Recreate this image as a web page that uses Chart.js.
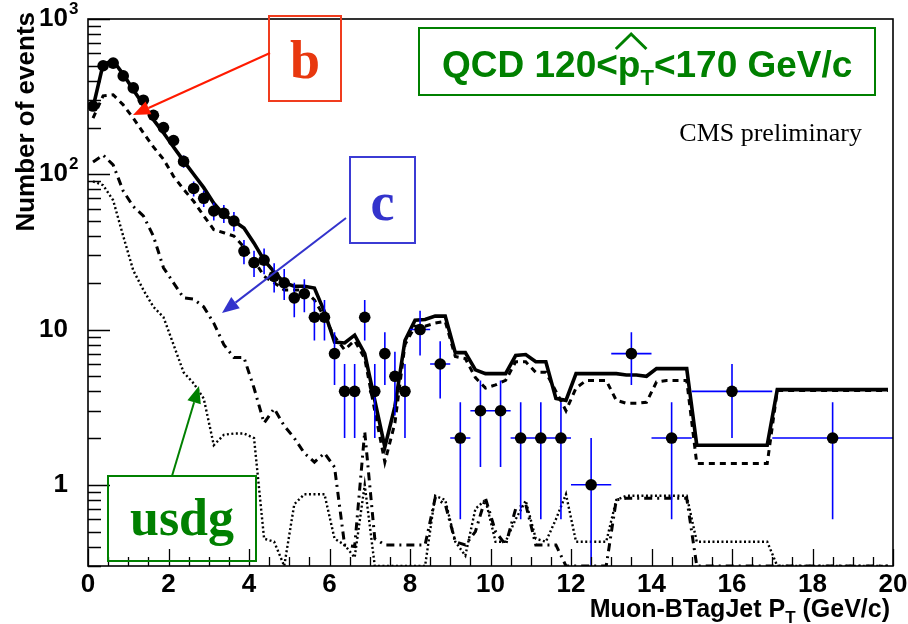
<!DOCTYPE html>
<html>
<head>
<meta charset="utf-8">
<script src="https://cdn.jsdelivr.net/npm/chart.js@4.4.1/dist/chart.umd.min.js"></script>
<style>
  html, body { margin: 0; padding: 0; background: #fff; }
  #wrap { width: 908px; height: 624px; position: relative; }
</style>
</head>
<body>
<div id="wrap"><canvas id="muonChart"></canvas></div>
<script>
// bin centres of the MC histograms (0.25 GeV/c bins)
const mcX = [
	0.125, 0.375, 0.625, 0.875, 1.125, 1.375, 1.625, 1.875, 2.125, 2.375,
	2.625, 2.875, 3.125, 3.375, 3.625, 3.875, 4.125, 4.375, 4.625, 4.875,
	5.125, 5.375, 5.625, 5.875, 6.125, 6.375, 6.625, 6.875, 7.125, 7.375,
	7.625, 7.875, 8.125, 8.375, 8.625, 8.875, 9.125, 9.375, 9.625, 9.875,
	10.125, 10.375, 10.625, 10.875, 11.125, 11.375, 11.625, 11.875, 12.125, 12.375,
	12.625, 12.875, 13.125, 13.375, 13.625, 13.875, 14.125, 14.375, 14.625, 14.875,
	15.125, 15.375, 15.625, 15.875, 16.125, 16.375, 16.625, 16.875, 17.125, 17.375,
	17.625, 17.875, 18.125, 18.375, 18.625, 18.875, 19.125, 19.375, 19.625, 19.875,
];

// total MC (solid)
const totalMC = [
	270, 510, 540, 440, 350, 280, 225, 185, 150, 122,
	100, 82, 65, 55, 50, 45, 36, 28, 23.5, 20,
	19, 19, 18.5, 13, 8.3, 8.2, 9.2, 7, 3.5, 1.75,
	3.2, 8.5, 11.5, 11.6, 12.2, 12.2, 7.1, 7.1, 5.5, 5.2,
	5.2, 5.2, 6.8, 6.9, 6.2, 6.2, 3.6, 3.5, 5.2, 5.2,
	5.2, 5.2, 5.2, 5.1, 5.1, 5.0, 5.6, 5.6, 5.6, 5.6,
	1.8, 1.8, 1.8, 1.8, 1.8, 1.8, 1.8, 1.8, 4.1, 4.1,
	4.1, 4.1, 4.1, 4.1, 4.1, 4.1, 4.1, 4.1, 4.1, 4.1,
];

// b component (dashed)
const bMC = [
	230, 320, 325, 280, 230, 185, 150, 125, 97, 80,
	67, 54, 44, 42, 40, 34, 28, 22, 20, 18,
	18, 18, 15.5, 12, 9, 7.4, 8.5, 6.5, 3, 1.4,
	2.5, 8, 10.5, 10.5, 11, 11.3, 6.7, 6.5, 4.9, 4.2,
	4.4, 4.7, 6.2, 6.2, 5.3, 5.3, 4.0, 3.0, 4.2, 4.7,
	4.7, 4.7, 3.5, 3.35, 3.35, 3.4, 4.6, 4.7, 4.7, 4.7,
	1.37, 1.37, 1.37, 1.37, 1.37, 1.37, 1.37, 1.37, 4.05, 4.05,
	4.05, 4.05, 4.05, 4.05, 4.05, 4.05, 4.05, 4.05, 4.05, 4.05,
];

// c component (dash-dot)
const cMC = [
	120, 133, 115, 78, 62, 54, 40, 25, 20, 16,
	15.7, 14, 11, 8, 6.6, 6.6, 4.2, 2.5, 3.1, 2.4,
	2.0, 1.6, 1.4, 1.6, 1.3, 0.41, 0.4, 2.2, 0.45, 0.41,
	0.41, 0.41, 0.41, 0.41, 0.82, 0.75, 0.43, 0.41, 0.5, 0.82,
	0.5, 0.41, 0.7, 0.75, 0.41, 0.41, 0.41, 0.3, 0.3, 0.3,
	0.3, 0.3, 0.8, 0.82, 0.82, 0.82, 0.82, 0.82, 0.82, 0.82,
	0.3, 0.3, 0.3, 0.3, 0.3, 0.3, 0.3, 0.3, 0.3, 0.3,
	0.3, 0.3, 0.3, 0.3, 0.3, 0.3, 0.3, 0.3, 0.3, 0.3,
];

// usdg component (dotted)
const usdgMC = [
	90, 85, 68, 40, 24, 18, 14, 12, 8, 5.3,
	4.5, 3.6, 1.8, 2.1, 2.14, 2.14, 2.0, 0.45, 0.43, 0.3,
	0.75, 0.87, 0.87, 0.87, 0.45, 0.41, 0.34, 1.0, 0.3, 0.3,
	0.3, 0.3, 0.3, 0.3, 0.85, 0.8, 0.43, 0.35, 0.7, 0.8,
	0.43, 0.43, 0.6, 0.79, 0.45, 0.43, 0.6, 0.87, 0.43, 0.43,
	0.43, 0.43, 0.8, 0.85, 0.85, 0.85, 0.85, 0.85, 0.85, 0.85,
	0.43, 0.43, 0.43, 0.43, 0.43, 0.43, 0.43, 0.43, 0.3, 0.3,
	0.3, 0.3, 0.3, 0.3, 0.3, 0.3, 0.3, 0.3, 0.3, 0.3,
];

// data points (variable binning)
const dataX = [
	0.125, 0.375, 0.625, 0.875, 1.125, 1.375, 1.625, 1.875, 2.125, 2.375,
	2.625, 2.875, 3.125, 3.375, 3.625, 3.875, 4.125, 4.375, 4.625, 4.875,
	5.125, 5.375, 5.625, 5.875, 6.125, 6.375, 6.625, 6.875, 7.125, 7.375,
	7.625, 7.875, 8.25, 8.75, 9.25, 9.75, 10.25, 10.75, 11.25, 11.75,
	12.5, 13.5, 14.5, 16, 18.5,
];
const dataY = [
	275, 500, 520, 430, 360, 300, 240, 200, 165, 121,
	81, 70, 58, 56, 50, 32, 27, 28, 22, 20,
	16, 17, 12, 12, 7, 4, 4, 12, 4, 7,
	5, 4, 10, 6, 2, 3, 3, 2, 2, 2,
	1, 7, 2, 4, 2,
];
const dataYErr = [
	16.6, 22.4, 22.8, 20.7, 19, 17.3, 15.5, 14.1, 12.8, 11,
	9, 8.4, 7.6, 7.5, 7.1, 5.7, 5.2, 5.3, 4.7, 4.5,
	4, 4.1, 3.5, 3.5, 2.6, 2, 2, 3.5, 2, 2.6,
	2.2, 2, 3.2, 2.4, 1.4, 1.7, 1.7, 1.4, 1.4, 1.4,
	1, 2.6, 1.4, 2, 1.4,
];
const dataXErr = [
	0.125, 0.125, 0.125, 0.125, 0.125, 0.125, 0.125, 0.125, 0.125, 0.125,
	0.125, 0.125, 0.125, 0.125, 0.125, 0.125, 0.125, 0.125, 0.125, 0.125,
	0.125, 0.125, 0.125, 0.125, 0.125, 0.125, 0.125, 0.125, 0.125, 0.125,
	0.125, 0.125, 0.25, 0.25, 0.25, 0.25, 0.25, 0.25, 0.25, 0.25,
	0.5, 0.5, 0.5, 1, 1.5,
];

// axis ticks
const xTickValues = [0, 2, 4, 6, 8, 10, 12, 14, 16, 18, 20];
const xTickLabels = ["0", "2", "4", "6", "8", "10", "12", "14", "16", "18", "20"];
const xMinorTicks = [0.5, 1, 1.5, 2.5, 3, 3.5, 4.5, 5, 5.5, 6.5, 7, 7.5, 8.5, 9, 9.5,
	10.5, 11, 11.5, 12.5, 13, 13.5, 14.5, 15, 15.5, 16.5, 17, 17.5, 18.5, 19, 19.5];
const yTickValues = [1, 10, 100, 1000];
const yTickLabels = ["1", "10", "10", "10"];
const yTickExponents = ["", "", "2", "3"];
const yMinorTicks = [0.3, 0.4, 0.5, 0.6, 0.7, 0.8, 0.9, 2, 3, 4, 5, 6, 7, 8, 9,
	20, 30, 40, 50, 60, 70, 80, 90, 200, 300, 400, 500, 600, 700, 800, 900];

const GREEN = "#008000";
const AXIS_FONT = "'Liberation Sans', Arial, sans-serif";
const SERIF = "'Liberation Serif', 'Times New Roman', serif";

const toPoints = (xs, ys) => xs.map((x, i) => ({ x, y: ys[i] }));

// text made of pieces (for subscripts), drawn left to right
function drawPieces(ctx, pieces, x, y) {
	let cx = x;
	pieces.forEach(({ text, font, dy }) => {
		ctx.font = font;
		ctx.fillText(text, cx, y + (dy || 0));
		cx += ctx.measureText(text).width;
	});
	return cx;
}
function piecesWidth(ctx, pieces) {
	return pieces.reduce((w, { text, font }) => {
		ctx.font = font;
		return w + ctx.measureText(text).width;
	}, 0);
}

function drawArrow(ctx, x1, y1, x2, y2, color) {
	const ang = Math.atan2(y2 - y1, x2 - x1);
	const len = 17, half = 7;
	const bx = x2 - len * Math.cos(ang), by = y2 - len * Math.sin(ang);
	ctx.strokeStyle = color;
	ctx.fillStyle = color;
	ctx.lineWidth = 2;
	ctx.beginPath();
	ctx.moveTo(x1, y1);
	ctx.lineTo(bx, by);
	ctx.stroke();
	ctx.beginPath();
	ctx.moveTo(x2, y2);
	ctx.lineTo(bx + half * Math.sin(ang), by - half * Math.cos(ang));
	ctx.lineTo(bx - half * Math.sin(ang), by + half * Math.cos(ang));
	ctx.closePath();
	ctx.fill();
}

function labelBox(ctx, box, text, color, font, textColor) {
	ctx.strokeStyle = color;
	ctx.lineWidth = 2;
	ctx.strokeRect(box.x, box.y, box.w, box.h);
	ctx.fillStyle = textColor || color;
	ctx.font = font;
	ctx.textAlign = "center";
	ctx.textBaseline = "alphabetic";
	ctx.fillText(text, box.x + box.w / 2, box.baseline);
}

// error bars under the markers
const errorBars = {
	id: "errorBars",
	beforeDatasetDraw(chart, args) {
		if (args.index !== 0) return;
		const { ctx, chartArea: a, scales: { x, y } } = chart;
		ctx.save();
		ctx.beginPath();
		ctx.rect(a.left, a.top, a.right - a.left, a.bottom - a.top);
		ctx.clip();
		ctx.strokeStyle = "#0000ff";
		ctx.lineWidth = 1.6;
		ctx.beginPath();
		dataX.forEach((xv, i) => {
			const px = x.getPixelForValue(xv);
			const py = y.getPixelForValue(dataY[i]);
			const lo = dataY[i] - dataYErr[i];
			const pLo = lo > 0 ? y.getPixelForValue(lo) : a.bottom;
			const pHi = y.getPixelForValue(dataY[i] + dataYErr[i]);
			ctx.moveTo(px, pLo);
			ctx.lineTo(px, pHi);
			ctx.moveTo(x.getPixelForValue(xv - dataXErr[i]), py);
			ctx.lineTo(x.getPixelForValue(xv + dataXErr[i]), py);
		});
		ctx.stroke();
		ctx.restore();
	},
};

// ROOT style frame, inner ticks, titles and the annotation boxes
const rootDecor = {
	id: "rootDecor",
	afterDraw(chart) {
		const { ctx, chartArea: a, scales: { x, y } } = chart;
		ctx.save();

		// ticks
		ctx.strokeStyle = "#000";
		ctx.lineWidth = 1.3;
		ctx.beginPath();
		yTickValues.forEach((v) => {
			const p = Math.round(y.getPixelForValue(v)) + 0.5;
			ctx.moveTo(a.left, p);
			ctx.lineTo(a.left + 22, p);
		});
		yMinorTicks.forEach((v) => {
			const p = Math.round(y.getPixelForValue(v)) + 0.5;
			ctx.moveTo(a.left, p);
			ctx.lineTo(a.left + 13, p);
		});
		xTickValues.forEach((v) => {
			const p = Math.round(x.getPixelForValue(v)) + 0.5;
			ctx.moveTo(p, a.bottom);
			ctx.lineTo(p, a.bottom - 17);
		});
		xMinorTicks.forEach((v) => {
			const p = Math.round(x.getPixelForValue(v)) + 0.5;
			ctx.moveTo(p, a.bottom);
			ctx.lineTo(p, a.bottom - 9);
		});
		ctx.stroke();

		// frame
		ctx.lineWidth = 1.6;
		ctx.strokeRect(a.left, a.top, a.right - a.left, a.bottom - a.top);

		// y tick labels with exponents
		ctx.fillStyle = "#000";
		ctx.textBaseline = "middle";
		yTickValues.forEach((v, i) => {
			const p = y.getPixelForValue(v);
			ctx.textAlign = "right";
			ctx.font = `bold 26px ${AXIS_FONT}`;
			ctx.fillText(yTickLabels[i], 68, p);
			if (yTickExponents[i]) {
				ctx.textAlign = "left";
				ctx.font = `bold 17px ${AXIS_FONT}`;
				ctx.fillText(yTickExponents[i], 69, p - 10);
			}
		});

		// axis titles
		ctx.textBaseline = "alphabetic";
		const xTitle = [
			{ text: "Muon-BTagJet P", font: `bold 25px ${AXIS_FONT}` },
			{ text: "T", font: `bold 17px ${AXIS_FONT}`, dy: 6 },
			{ text: " (GeV/c)", font: `bold 25px ${AXIS_FONT}` },
		];
		ctx.textAlign = "left";
		drawPieces(ctx, xTitle, a.right - 3 - piecesWidth(ctx, xTitle), 617);

		ctx.save();
		ctx.translate(34, 12);
		ctx.rotate(-Math.PI / 2);
		ctx.textAlign = "right";
		ctx.font = `bold 26px ${AXIS_FONT}`;
		ctx.fillText("Number of events", 0, 0);
		ctx.restore();

		// QCD title box
		ctx.strokeStyle = GREEN;
		ctx.lineWidth = 2;
		ctx.strokeRect(419, 28, 456, 67);
		ctx.fillStyle = GREEN;
		ctx.textAlign = "left";
		const big = `bold 37px ${AXIS_FONT}`;
		let cx = drawPieces(ctx, [{ text: "QCD 120<", font: big }], 442, 77);
		ctx.font = big;
		const pw = ctx.measureText("p").width;
		ctx.fillText("p", cx, 77);
		// hat over p
		ctx.strokeStyle = GREEN;
		ctx.lineWidth = 3;
		ctx.beginPath();
		ctx.moveTo(cx - 2, 49);
		ctx.lineTo(cx + pw / 2 + 2, 34);
		ctx.lineTo(cx + pw + 6, 49);
		ctx.stroke();
		cx += pw;
		drawPieces(ctx, [
			{ text: "T", font: `bold 22px ${AXIS_FONT}`, dy: 8 },
			{ text: "<170 GeV/c", font: big },
		], cx, 77);

		// CMS preliminary
		ctx.fillStyle = "#000";
		ctx.font = `26px ${SERIF}`;
		ctx.textAlign = "right";
		ctx.fillText("CMS preliminary", 862, 141);

		// component labels with arrows
		labelBox(ctx, { x: 269, y: 16, w: 72, h: 85, baseline: 78 }, "b", "#f03c1e",
			`bold 54px ${SERIF}`, "#e8380f");
		drawArrow(ctx, 270, 53, 133, 115, "#ff1a00");

		labelBox(ctx, { x: 350, y: 157, w: 65, h: 86, baseline: 220 }, "c", "#3b3bd4",
			`bold 54px ${SERIF}`, "#3333cc");
		drawArrow(ctx, 346, 218, 222, 313, "#3333cc");

		labelBox(ctx, { x: 108, y: 476, w: 148, h: 85, baseline: 535 }, "usdg", GREEN,
			`bold 52px ${SERIF}`);
		drawArrow(ctx, 172, 476, 199, 386, GREEN);

		ctx.restore();
	},
};

const lineStyle = (data, color, width, dash, order) => ({
	data,
	borderColor: color,
	borderWidth: width,
	borderDash: dash,
	pointRadius: 0,
	fill: false,
	tension: 0,
	order,
	clip: 0,
});

new Chart(document.getElementById("muonChart"), {
	type: "line",
	data: {
		datasets: [
			{
				label: "Data",
				data: toPoints(dataX, dataY),
				showLine: false,
				pointRadius: 5.8,
				pointHoverRadius: 5.8,
				pointBackgroundColor: "#000",
				pointBorderColor: "#000",
				pointBorderWidth: 0,
				order: 0,
			},
			{ label: "Total", ...lineStyle(toPoints(mcX, totalMC), "#000", 3.6, [], 1) },
			{ label: "b", ...lineStyle(toPoints(mcX, bMC), "#000", 3, [6, 5], 2) },
			{ label: "c", ...lineStyle(toPoints(mcX, cMC), "#000", 3, [8, 5, 2, 5], 3) },
			{ label: "usdg", ...lineStyle(toPoints(mcX, usdgMC), "#000", 2.4, [2, 2.5], 4) },
		],
	},
	options: {
		responsive: true,
		maintainAspectRatio: false,
		animation: false,
		devicePixelRatio: 1,
		layout: { padding: { left: 0, right: 15, top: 19, bottom: 0 } },
		plugins: {
			legend: { display: false },
			tooltip: { enabled: false },
		},
		scales: {
			x: {
				type: "linear",
				min: 0,
				max: 20,
				afterBuildTicks: (s) => { s.ticks = xTickValues.map((value) => ({ value })); },
				afterFit: (s) => {
					s.height = 58;
					s.paddingLeft = 0;
					s.paddingRight = 0;
				},
				grid: { display: false, drawTicks: false },
				border: { display: false },
				ticks: {
					autoSkip: false,
					maxRotation: 0,
					padding: 3,
					color: "#000",
					font: { family: AXIS_FONT, size: 26, weight: "bold" },
					callback: (v) => xTickLabels[xTickValues.indexOf(v)],
				},
			},
			y: {
				type: "logarithmic",
				min: 0.3,
				max: 1000,
				afterBuildTicks: (s) => { s.ticks = yTickValues.map((value) => ({ value })); },
				afterFit: (s) => {
					s.width = 88;
					s.paddingTop = 0;
					s.paddingBottom = 0;
				},
				grid: { display: false, drawTicks: false },
				border: { display: false },
				ticks: { display: false },
			},
		},
	},
	plugins: [errorBars, rootDecor],
});
</script>
</body>
</html>
